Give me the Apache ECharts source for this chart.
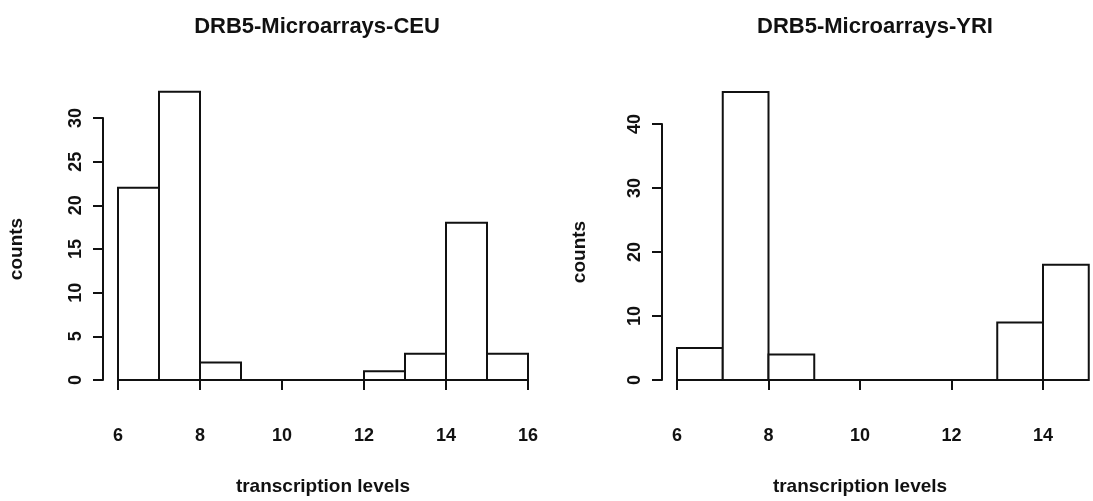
<!DOCTYPE html>
<html>
<head>
<meta charset="utf-8">
<script src="https://cdn.jsdelivr.net/npm/echarts@6/dist/echarts.min.js"></script>
<style>
html,body{margin:0;padding:0;background:#fff;}
#chart{width:1093px;height:501px;}
</style>
</head>
<body>
<div id="chart"></div>
<script>
// Data
const titles = ['DRB5-Microarrays-CEU', 'DRB5-Microarrays-YRI'];
const ceuBinStarts = [6, 7, 8, 9, 10, 11, 12, 13, 14, 15];
const ceuCounts = [22, 33, 2, 0, 0, 0, 1, 3, 18, 3];
const yriBinStarts = [6, 7, 8, 9, 10, 11, 12, 13, 14];
const yriCounts = [5, 45, 4, 0, 0, 0, 0, 9, 18];
const binWidth = 1;
const xLabel = 'transcription levels';
const yLabel = 'counts';

const FONT = 'Liberation Sans';
const INK = '#111';

function toBins(starts, counts) {
  return starts.map((s, i) => [s, s + binWidth, counts[i]]);
}

function renderItem(params, api) {
  const x0 = api.value(0), x1 = api.value(1), c = api.value(2);
  const p0 = api.coord([x0, 0]);
  const p1 = api.coord([x1, c]);
  return {
    type: 'rect',
    shape: { x: p0[0], y: p1[1], width: p1[0] - p0[0], height: p0[1] - p1[1] },
    style: { fill: '#fff', stroke: INK, lineWidth: 2 }
  };
}

function xAxisCfg(gridIndex, min, max) {
  return {
    type: 'value', gridIndex, min, max, interval: 2, offset: 12,
    name: xLabel, nameLocation: 'middle', nameGap: 85,
    nameTextStyle: { fontFamily: FONT, fontWeight: 'bold', fontSize: 19, color: INK },
    axisLine: { show: true, lineStyle: { color: INK, width: 2 } },
    axisTick: { show: true, length: 10, lineStyle: { color: INK, width: 2 } },
    axisLabel: { fontFamily: FONT, fontWeight: 'bold', fontSize: 18, color: INK, margin: 35 },
    splitLine: { show: false }
  };
}
function yAxisCfg(gridIndex, max, interval, nameGap) {
  return {
    type: 'value', gridIndex, min: 0, max, interval, offset: 15,
    name: yLabel, nameLocation: 'middle', nameGap, nameRotate: 90,
    nameTextStyle: { fontFamily: FONT, fontWeight: 'bold', fontSize: 19, color: INK },
    axisLine: { show: true, lineStyle: { color: INK, width: 2 } },
    axisTick: { show: true, length: 10, lineStyle: { color: INK, width: 2 } },
    axisLabel: { fontFamily: FONT, fontWeight: 'bold', fontSize: 18, color: INK, margin: 18, rotate: 90 },
    splitLine: { show: false }
  };
}

const chart = echarts.init(document.getElementById('chart'), null, { renderer: 'canvas' });
chart.setOption({
  animation: false,
  backgroundColor: '#fff',
  title: [
    { text: titles[0], left: 312, top: 11, textAlign: 'center',
      textStyle: { fontFamily: FONT, fontWeight: 'bold', fontSize: 22, color: INK } },
    { text: titles[1], left: 870, top: 11, textAlign: 'center',
      textStyle: { fontFamily: FONT, fontWeight: 'bold', fontSize: 22, color: INK } }
  ],
  grid: [
    { left: 118, width: 410, top: 118, height: 268 },
    { left: 677, width: 366, top: 124, height: 262 }
  ],
  xAxis: [xAxisCfg(0, 6, 16), xAxisCfg(1, 6, 14)],
  yAxis: [yAxisCfg(0, 30, 5, 77), yAxisCfg(1, 40, 10, 73)],
  series: [
    { type: 'custom', xAxisIndex: 0, yAxisIndex: 0, renderItem, clip: false,
      encode: { x: [0, 1], y: 2 }, data: toBins(ceuBinStarts, ceuCounts) },
    { type: 'custom', xAxisIndex: 1, yAxisIndex: 1, renderItem, clip: false,
      encode: { x: [0, 1], y: 2 }, data: toBins(yriBinStarts, yriCounts) }
  ]
});
</script>
</body>
</html>
